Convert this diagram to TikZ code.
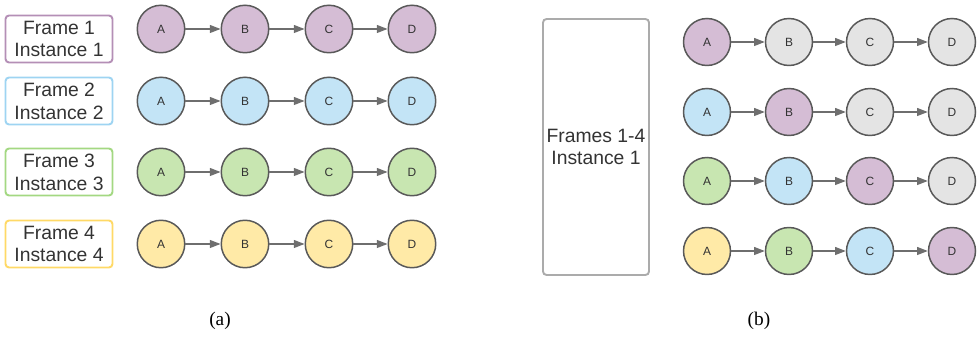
\documentclass[tikz,border=0pt]{standalone}
\usepackage{fontspec}
\setmainfont{Liberation Sans}
\newfontfamily\capfont{Liberation Serif}
\usetikzlibrary{arrows.meta,positioning}
\definecolor{purplefill}{HTML}{D5BDD5}
\definecolor{purpleline}{HTML}{B48FB6}
\definecolor{bluefill}{HTML}{C3E4F6}
\definecolor{blueline}{HTML}{9ED4F2}
\definecolor{greenfill}{HTML}{C8E6B1}
\definecolor{greenline}{HTML}{A3D882}
\definecolor{yellowfill}{HTML}{FFEAA7}
\definecolor{yellowline}{HTML}{FFD966}
\definecolor{grayfill}{HTML}{E4E4E4}
\definecolor{stateline}{HTML}{595959}
\definecolor{linkgray}{HTML}{6E6E6E}
\definecolor{boxgray}{HTML}{ABABAB}

\begin{document}
\begin{tikzpicture}[x=0.02cm,y=-0.02cm,
    state/.style={circle,draw=stateline,line width=0.85pt,minimum size=0.95cm,
        inner sep=0pt,font=\fontsize{6.8}{7}\selectfont\color{black!80}},
    framebox/.style={draw,rounded corners=2pt,line width=1.1pt,minimum width=2.14cm,
        minimum height=0.94cm,inner sep=0pt,align=center,
        font=\fontsize{11}{13}\selectfont\color{black!80}},
    link/.style={draw=linkgray,line width=0.6pt,-{Triangle[length=6pt,width=4.5pt]}}]
    \useasboundingbox (0,0) rectangle (978,337);
    % (a) one instance per frame
    \foreach \r/\yc/\yb/\col in {1/29/39/purple,2/101/101/blue,3/172/172/green,4/244/244/yellow} {
        \node[framebox,draw=\col line] (f\r) at (59,\yb) {Frame \r\\Instance \r};
        \foreach \c/\x in {A/161,B/245,C/329,D/412}
            \node[state,fill=\col fill] (l\r\c) at (\x,\yc) {\c};
        \draw[link] (l\r A) -- (l\r B);
        \draw[link] (l\r B) -- (l\r C);
        \draw[link] (l\r C) -- (l\r D);
    }
    % (b) one instance for frames 1-4
    \node[framebox,draw=boxgray,minimum width=2.12cm,minimum height=5.12cm] (all) at (596,147) {Frames 1-4\\Instance 1};
    \foreach \r/\y/\ca/\cb/\cc/\cd in {1/42/purple/gray/gray/gray,2/112/blue/purple/gray/gray,
            3/181/green/blue/purple/gray,4/251/yellow/green/blue/purple} {
        \node[state,fill=\ca fill,minimum size=0.94cm] (r\r A) at (707,\y) {A};
        \node[state,fill=\cb fill,minimum size=0.94cm] (r\r B) at (789,\y) {B};
        \node[state,fill=\cc fill,minimum size=0.94cm] (r\r C) at (870,\y) {C};
        \node[state,fill=\cd fill,minimum size=0.94cm] (r\r D) at (952,\y) {D};
        \draw[link] (r\r A) -- (r\r B);
        \draw[link] (r\r B) -- (r\r C);
        \draw[link] (r\r C) -- (r\r D);
    }
    \node[font=\capfont\fontsize{11}{13}\selectfont] (capa) at (220,321) {(a)};
    \node[font=\capfont\fontsize{11}{13}\selectfont] (capb) at (759,321) {(b)};
\end{tikzpicture}
\end{document}
